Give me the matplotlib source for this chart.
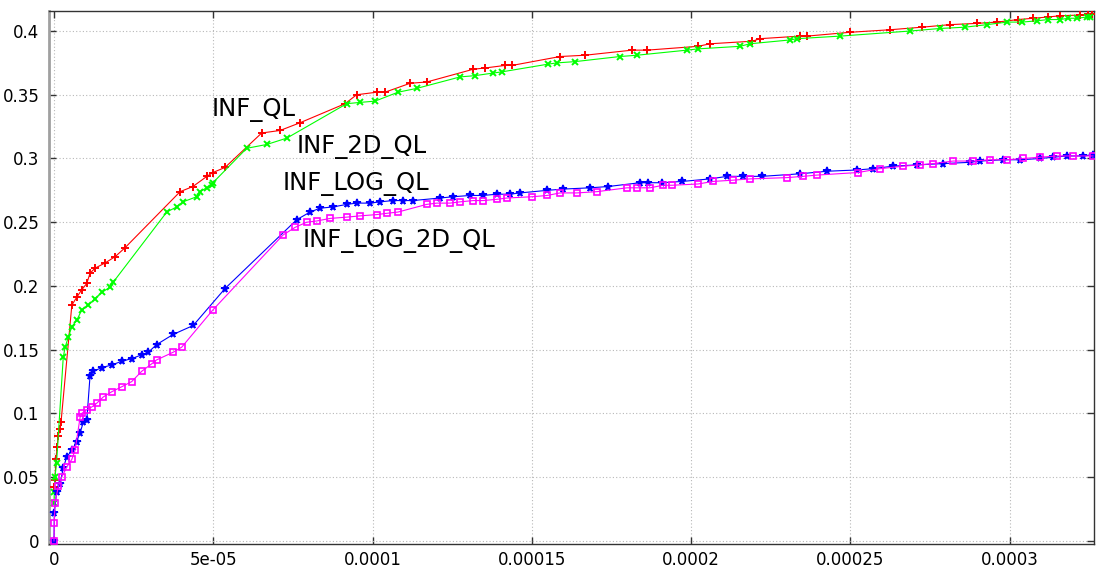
import matplotlib
matplotlib.use("Agg")
import matplotlib.pyplot as plt
import numpy as np

SCALE = 1e-5  # x values below are given in units of 1e-5

# INF_QL
ql_x = [0.0, 0.03, 0.06, 0.10, 0.13, 0.19, 0.22, 0.56, 0.71, 0.87, 1.03, 1.13, 1.29, 1.60,
        1.92, 2.23, 3.96, 4.36, 4.80, 4.99, 5.37, 6.52, 7.10, 7.72, 9.14, 9.50, 10.13, 10.39,
        11.18, 11.70, 13.16, 13.53, 14.16, 14.38, 15.89, 16.67, 18.15, 18.62, 20.22, 20.60,
        21.92, 22.17, 23.42, 23.64, 24.99, 26.25, 27.25, 28.13, 28.98, 29.61, 30.27, 30.74,
        31.21, 31.59, 32.21, 32.46, 32.59]
ql_y = [0.042, 0.048, 0.064, 0.074, 0.082, 0.088, 0.093, 0.185, 0.191, 0.197, 0.202, 0.210,
        0.214, 0.218, 0.223, 0.230, 0.274, 0.278, 0.286, 0.289, 0.293, 0.320, 0.322, 0.328,
        0.343, 0.350, 0.352, 0.352, 0.359, 0.360, 0.370, 0.371, 0.373, 0.373, 0.380, 0.381,
        0.385, 0.385, 0.388, 0.390, 0.392, 0.394, 0.396, 0.396, 0.399, 0.401, 0.403, 0.405,
        0.406, 0.407, 0.409, 0.410, 0.411, 0.412, 0.4125, 0.413, 0.413]

# INF_2D_QL
ql2d_x = [0.0, 0.01, 0.03, 0.08, 0.29, 0.35, 0.45, 0.56, 0.71, 0.87, 1.08, 1.29, 1.50, 1.76,
          1.86, 3.54, 3.85, 4.05, 4.48, 4.58, 4.79, 4.96, 4.99, 6.05, 6.68, 7.31, 9.19, 9.61,
          10.08, 10.80, 11.39, 12.75, 13.22, 13.78, 14.07, 15.51, 15.79, 16.36, 17.77, 18.30,
          19.87, 20.22, 21.54, 21.85, 23.11, 23.33, 24.68, 26.88, 27.82, 28.60, 29.29, 29.92,
          30.39, 30.86, 31.21, 31.59, 31.84, 32.12, 32.43, 32.53]
ql2d_y = [0.030, 0.038, 0.050, 0.061, 0.144, 0.152, 0.160, 0.168, 0.173, 0.181, 0.185, 0.190,
          0.195, 0.199, 0.203, 0.258, 0.262, 0.266, 0.270, 0.274, 0.277, 0.279, 0.281, 0.308,
          0.311, 0.316, 0.343, 0.344, 0.345, 0.352, 0.355, 0.364, 0.365, 0.367, 0.368, 0.374,
          0.375, 0.376, 0.380, 0.381, 0.385, 0.386, 0.388, 0.390, 0.393, 0.394, 0.396, 0.400,
          0.402, 0.403, 0.405, 0.407, 0.407, 0.408, 0.409, 0.409, 0.410, 0.410, 0.411, 0.411]

# INF_LOG_QL
log_x = [0.0, 0.01, 0.08, 0.19, 0.29, 0.40, 0.56, 0.71, 0.82, 0.92, 1.03, 1.13, 1.23, 1.50,
         1.81, 2.13, 2.44, 2.75, 2.96, 3.22, 3.74, 4.37, 5.37, 7.62, 8.04, 8.35, 8.76, 9.19,
         9.50, 9.92, 10.24, 10.64, 10.96, 11.27, 12.12, 12.53, 13.06, 13.47, 13.91, 14.32,
         14.63, 15.48, 15.98, 16.83, 17.39, 18.40, 18.65, 19.09, 19.72, 20.60, 21.13, 21.63,
         22.23, 23.42, 24.27, 25.21, 25.71, 26.34, 27.10, 27.91, 28.76, 29.07, 29.80, 30.33,
         30.96, 31.37, 31.81, 32.31, 32.62]
log_y = [0.0, 0.022, 0.038, 0.045, 0.057, 0.066, 0.071, 0.078, 0.085, 0.093, 0.095, 0.129,
         0.133, 0.136, 0.138, 0.141, 0.143, 0.146, 0.148, 0.154, 0.162, 0.169, 0.198, 0.252,
         0.258, 0.261, 0.262, 0.264, 0.265, 0.265, 0.266, 0.267, 0.267, 0.267, 0.269, 0.270,
         0.271, 0.271, 0.272, 0.272, 0.273, 0.275, 0.276, 0.277, 0.278, 0.281, 0.281, 0.281,
         0.282, 0.284, 0.286, 0.286, 0.286, 0.288, 0.290, 0.291, 0.292, 0.294, 0.295, 0.296,
         0.297, 0.298, 0.299, 0.299, 0.300, 0.301, 0.302, 0.302, 0.303]

# INF_LOG_2D_QL
log2d_x = [0.0, 0.01, 0.03, 0.14, 0.24, 0.40, 0.56, 0.66, 0.82, 0.87, 1.03, 1.18, 1.34, 1.55,
           1.81, 2.13, 2.44, 2.75, 3.07, 3.22, 3.74, 4.01, 4.98, 7.19, 7.57, 7.93, 8.25, 8.67,
           9.19, 9.61, 10.13, 10.45, 10.80, 11.70, 12.02, 12.43, 12.75, 13.16, 13.47, 13.91,
           14.22, 15.01, 15.48, 15.89, 16.42, 17.05, 17.99, 18.30, 18.71, 19.12, 19.40, 20.22,
           20.69, 21.32, 21.85, 23.01, 23.52, 23.96, 25.24, 25.93, 26.66, 27.19, 27.60, 28.23,
           28.85, 29.39, 29.92, 30.42, 30.96, 31.49, 31.99, 32.62]
log2d_y = [0.0, 0.014, 0.030, 0.043, 0.050, 0.058, 0.064, 0.071, 0.097, 0.100, 0.103, 0.105,
           0.108, 0.113, 0.117, 0.121, 0.125, 0.133, 0.139, 0.142, 0.148, 0.152, 0.181, 0.240,
           0.246, 0.250, 0.251, 0.253, 0.254, 0.255, 0.256, 0.257, 0.258, 0.264, 0.265, 0.265,
           0.266, 0.267, 0.267, 0.268, 0.269, 0.270, 0.271, 0.273, 0.273, 0.274, 0.277, 0.277,
           0.277, 0.279, 0.279, 0.280, 0.282, 0.283, 0.284, 0.285, 0.286, 0.287, 0.289, 0.292,
           0.294, 0.295, 0.296, 0.298, 0.298, 0.299, 0.299, 0.300, 0.301, 0.302, 0.302, 0.302]

x_ticks = [0, 5e-05, 0.0001, 0.00015, 0.0002, 0.00025, 0.0003]
x_tick_labels = ["0", "5e-05", "0.0001", "0.00015", "0.0002", "0.00025", "0.0003"]
y_ticks = [0, 0.05, 0.1, 0.15, 0.2, 0.25, 0.3, 0.35, 0.4]
y_tick_labels = ["0", "0.05", "0.1", "0.15", "0.2", "0.25", "0.3", "0.35", "0.4"]

# name, x, y, colour, marker, fill, marker size, marker edge width
series = [
    ("INF_QL", ql_x, ql_y, "#ff0000", "+", "full", 5.5, 1.4),
    ("INF_2D_QL", ql2d_x, ql2d_y, "#00ff00", "x", "full", 5.0, 1.4),
    ("INF_LOG_QL", log_x, log_y, "#0000ff", "*", "full", 5.5, 1.2),
    ("INF_LOG_2D_QL", log2d_x, log2d_y, "#ff00ff", "s", "none", 4.2, 1.2),
]

# label name, x (1e-5 units), y
labels = [
    ("INF_QL", 4.96, 0.338),
    ("INF_2D_QL", 7.63, 0.309),
    ("INF_LOG_QL", 7.19, 0.280),
    ("INF_LOG_2D_QL", 7.82, 0.235),
]

plt.rcParams["font.family"] = ["DejaVu Sans"]
fig = plt.figure(figsize=(10.98, 5.71), dpi=100)
ax = fig.add_axes([49 / 1098, 1 - 544 / 571, (1094 - 49) / 1098, (544 - 11) / 571])

for name, xs, ys, color, marker, fill, ms, mew in series:
    xs = np.asarray(xs) * SCALE
    ax.plot(xs, ys, color=color, lw=0.8, marker=marker, ms=ms, mew=mew,
            fillstyle=fill, zorder=3)

for text, lx, ly in labels:
    ax.text(lx * SCALE, ly, text, fontsize=17.5, color="black",
            ha="left", va="center", zorder=4)

ax.set_xlim(-0.157e-5, 32.65e-5)
ax.set_ylim(-0.0024, 0.4157)
ax.set_xticks(x_ticks)
ax.set_xticklabels(x_tick_labels)
ax.set_yticks(y_ticks)
ax.set_yticklabels(y_tick_labels)

ax.grid(True, color="#b8b8b8", linestyle=(0, (1, 2)), linewidth=0.8, zorder=0)
ax.tick_params(direction="in", length=5, width=1, colors="#333333",
               labelsize=12, top=True, right=True, labelcolor="black")
ax.tick_params(axis="x", pad=5)
ax.tick_params(axis="y", pad=7)

for side in ["top", "right", "bottom"]:
    ax.spines[side].set_color("#333333")
    ax.spines[side].set_linewidth(1.0)
ax.spines["left"].set_color("#a0a0a0")
ax.spines["left"].set_linewidth(2.0)

fig.savefig("out.png", dpi=100)
